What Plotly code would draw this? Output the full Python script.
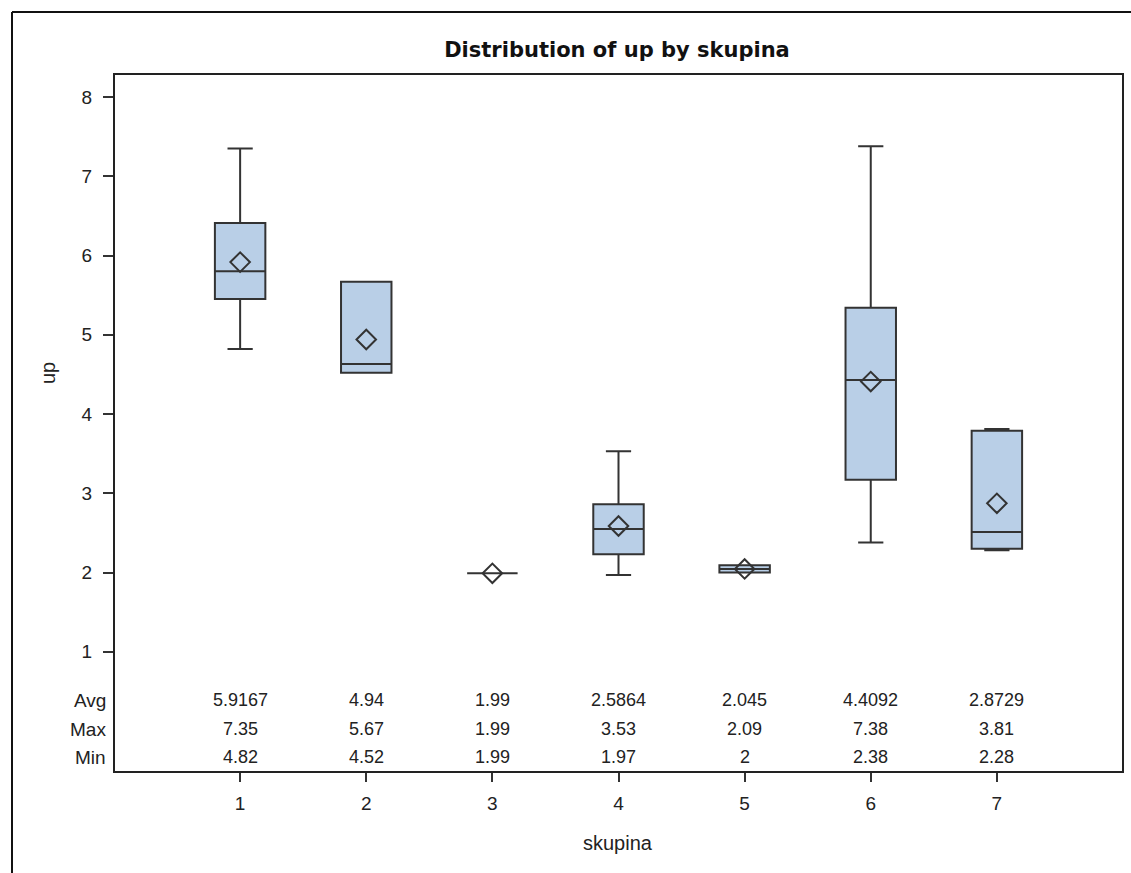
import plotly.graph_objects as go

# Box plot statistics of "up" for each skupina
skupina = [1, 2, 3, 4, 5, 6, 7]
q1 = [5.45, 4.52, 1.99, 2.23, 2.00, 3.17, 2.30]
median = [5.80, 4.63, 1.99, 2.55, 2.045, 4.43, 2.51]
q3 = [6.41, 5.67, 1.99, 2.86, 2.09, 5.34, 3.79]
avg = [5.9167, 4.94, 1.99, 2.5864, 2.045, 4.4092, 2.8729]
vmax = [7.35, 5.67, 1.99, 3.53, 2.09, 7.38, 3.81]
vmin = [4.82, 4.52, 1.99, 1.97, 2.00, 2.38, 2.28]

# Inset table rows below the plot
table_rows = [("Avg", avg, ["5.9167", "4.94", "1.99", "2.5864", "2.045", "4.4092", "2.8729"]),
              ("Max", vmax, ["7.35", "5.67", "1.99", "3.53", "2.09", "7.38", "3.81"]),
              ("Min", vmin, ["4.82", "4.52", "1.99", "1.97", "2", "2.38", "2.28"])]

W, H = 1131, 873
L, R, T, B = 114, 8, 74, 101
pw, ph = W - L - R, H - T - B

def px_x(x):
    return (x - L) / pw

def px_y(y):
    return (H - B - y) / ph

LINE = "#333333"
FILL = "#B9CFE7"
FONT = "Liberation Sans, Arial, sans-serif"

fig = go.Figure()
fig.add_trace(go.Box(
    x=skupina, q1=q1, median=median, q3=q3,
    lowerfence=vmin, upperfence=vmax,
    width=0.4, whiskerwidth=0.5,
    fillcolor=FILL, line=dict(color=LINE, width=2),
    boxpoints=False, showlegend=False,
))
fig.add_trace(go.Scatter(
    x=skupina, y=avg, mode="markers", showlegend=False,
    marker=dict(symbol="diamond-open", size=15, color=LINE,
                line=dict(color=LINE, width=2)),
))

annotations = []
row_y = [700, 729, 757]
for (label, _, texts), yy in zip(table_rows, row_y):
    annotations.append(dict(text=label, xref="paper", yref="paper",
                            x=px_x(108), y=px_y(yy), xanchor="right", yanchor="middle",
                            showarrow=False, font=dict(family=FONT, size=19, color="#222222")))
    for xv, t in zip(skupina, texts):
        annotations.append(dict(text=t, xref="x", yref="paper", x=xv, y=px_y(yy),
                                xanchor="center", yanchor="middle", showarrow=False,
                                font=dict(family=FONT, size=18, color="#222222")))

# axis titles
annotations.append(dict(text="skupina", xref="paper", yref="paper", x=px_x(618), y=px_y(843),
                        xanchor="center", yanchor="middle", showarrow=False,
                        font=dict(family=FONT, size=20, color="#222222")))
annotations.append(dict(text="up", xref="paper", yref="paper", x=px_x(48), y=px_y(373),
                        xanchor="center", yanchor="middle", showarrow=False, textangle=-90,
                        font=dict(family=FONT, size=20, color="#222222")))

shapes = [
    # plot frame
    dict(type="rect", xref="paper", yref="paper", x0=0, x1=1, y0=0, y1=1,
         line=dict(color="#222222", width=2)),
    # outer page frame
    dict(type="line", xref="paper", yref="paper", x0=px_x(12), x1=px_x(12),
         y0=px_y(12), y1=px_y(880), line=dict(color="#111111", width=2)),
    dict(type="line", xref="paper", yref="paper", x0=px_x(12), x1=px_x(1140),
         y0=px_y(12), y1=px_y(12), line=dict(color="#111111", width=2)),
]

ydom_bottom = px_y(672)
fig.update_layout(
    width=W, height=H,
    margin=dict(l=L, r=R, t=T, b=B, autoexpand=False),
    paper_bgcolor="white", plot_bgcolor="white",
    title=dict(text="<b>Distribution of up by skupina</b>", x=px_x(617), xref="paper",
               y=1 - 50 / H, yanchor="middle", xanchor="center",
               font=dict(family="DejaVu Sans, sans-serif", size=21, color="#111111")),
    xaxis=dict(range=[0, 8], tickvals=skupina, ticktext=[str(s) for s in skupina],
               ticks="outside", ticklen=9, tickwidth=2, tickcolor=LINE,
               ticklabelstandoff=5,
               showgrid=False, zeroline=False, showline=False,
               anchor="free", position=0,
               tickfont=dict(family=FONT, size=19, color="#222222")),
    yaxis=dict(range=[8 - (672 - 97) / 79.25, 8 + (97 - 74) / 79.25],
               domain=[ydom_bottom, 1],
               tickvals=[1, 2, 3, 4, 5, 6, 7, 8],
               ticks="outside", ticklen=10, tickwidth=2, tickcolor=LINE,
               ticklabelstandoff=7,
               showgrid=False, zeroline=False, showline=False,
               tickfont=dict(family=FONT, size=19, color="#222222")),
    annotations=annotations,
    shapes=shapes,
)

fig.write_html("out.html")
